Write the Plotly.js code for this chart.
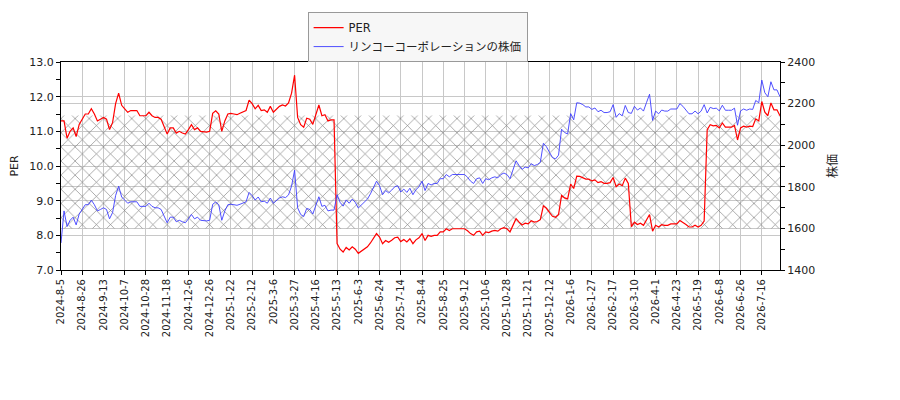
<!DOCTYPE html>
<html>
<head>
<meta charset="utf-8">
<script src="https://cdn.plot.ly/plotly-3.0.1.min.js"></script>
<style>
  body { margin: 0; background: #fff; }
  #plot { width: 900px; height: 400px; }
</style>
</head>
<body>
<div id="plot"></div>
<script>
// tick labels, one every 14 trading days
const tickLabels = [
  '2024-8-5', '2024-8-26', '2024-9-13', '2024-10-7', '2024-10-28', '2024-11-18', '2024-12-6', '2024-12-26',
  '2025-1-22', '2025-2-12', '2025-3-6', '2025-3-27', '2025-4-16', '2025-5-13', '2025-6-3', '2025-6-24',
  '2025-7-14', '2025-8-4', '2025-8-25', '2025-9-12', '2025-10-6', '2025-10-28', '2025-11-21', '2025-12-12',
  '2026-1-6', '2026-1-27', '2026-2-17', '2026-3-10', '2026-4-1', '2026-4-23', '2026-5-19', '2026-6-8',
  '2026-6-26', '2026-7-16'
];

// one value every 2 trading days (7 per tick interval)
const perValues = [
  11.3, 11.3, 10.8, 11.0, 11.1, 10.85, 11.2,
  11.35, 11.5, 11.5, 11.65, 11.5, 11.3, 11.35,
  11.4, 11.35, 11.05, 11.25, 11.8, 12.1, 11.75,
  11.65, 11.55, 11.6, 11.6, 11.6, 11.45, 11.45,
  11.45, 11.55, 11.45, 11.4, 11.4, 11.35, 11.12,
  10.92, 11.1, 11.1, 10.95, 11.0, 10.95, 10.92,
  11.05, 11.19, 11.05, 11.1, 11.0, 10.98, 10.98,
  11.0, 11.52, 11.59, 11.5, 11.0, 11.3, 11.5,
  11.52, 11.5, 11.48, 11.52, 11.57, 11.6, 11.9,
  11.8, 11.65, 11.75, 11.6, 11.62, 11.55, 11.72,
  11.55, 11.65, 11.72, 11.76, 11.73, 11.82, 12.1,
  12.62, 11.4, 11.19, 11.12, 11.38, 11.35, 11.2,
  11.45, 11.76, 11.45, 11.48, 11.3, 11.33, 11.33,
  7.76, 7.6, 7.52, 7.65, 7.58, 7.67, 7.6,
  7.48, 7.55, 7.6, 7.67, 7.78, 7.9, 8.05,
  7.95, 7.76, 7.85, 7.8, 7.86, 7.93, 7.95,
  7.82, 7.88, 7.81, 7.9, 7.76, 7.87, 7.93,
  8.05, 7.85, 8.0, 7.97, 8.0, 8.0, 8.1,
  8.1, 8.19, 8.14, 8.19, 8.19, 8.19, 8.19,
  8.19, 8.13, 8.05, 8.0, 8.1, 8.12, 8.0,
  8.1, 8.08, 8.12, 8.14, 8.12, 8.19, 8.22,
  8.19, 8.1, 8.28, 8.48, 8.38, 8.3, 8.35,
  8.33, 8.42, 8.38, 8.4, 8.45, 8.85, 8.78,
  8.66, 8.55, 8.52, 8.6, 9.15, 9.08, 9.05,
  9.48, 9.35, 9.71, 9.7, 9.67, 9.62, 9.62,
  9.57, 9.6, 9.52, 9.55, 9.5, 9.5, 9.52,
  9.67, 9.4, 9.48, 9.43, 9.65, 9.5, 8.25,
  8.38, 8.31, 8.35, 8.29, 8.45, 8.6, 8.12,
  8.29, 8.24, 8.31, 8.29, 8.29, 8.33, 8.33,
  8.33, 8.43, 8.38, 8.31, 8.24, 8.24, 8.29,
  8.24, 8.29, 8.41, 11.05, 11.19, 11.16, 11.17,
  11.1, 11.24, 11.12, 11.12, 11.12, 11.17, 10.75,
  11.1, 11.15, 11.12, 11.15, 11.14, 11.36, 11.3,
  11.86, 11.55, 11.45, 11.82, 11.62, 11.62, 11.45
];

const priceValues = [
  1530, 1684, 1609, 1639, 1654, 1617, 1669,
  1691, 1714, 1714, 1736, 1714, 1684, 1691,
  1699, 1691, 1646, 1676, 1758, 1803, 1751,
  1736, 1721, 1728, 1728, 1728, 1706, 1706,
  1706, 1721, 1706, 1699, 1699, 1691, 1657,
  1627, 1654, 1654, 1632, 1639, 1632, 1627,
  1646, 1667, 1646, 1654, 1639, 1636, 1636,
  1639, 1716, 1727, 1714, 1639, 1684, 1714,
  1716, 1714, 1711, 1716, 1724, 1728, 1773,
  1758, 1736, 1751, 1728, 1731, 1721, 1746,
  1721, 1736, 1746, 1752, 1748, 1761, 1803,
  1880, 1699, 1667, 1657, 1696, 1691, 1669,
  1706, 1752, 1706, 1711, 1684, 1688, 1688,
  1762, 1725, 1707, 1737, 1721, 1741, 1725,
  1698, 1714, 1725, 1741, 1766, 1793, 1827,
  1805, 1762, 1782, 1771, 1784, 1800, 1805,
  1775, 1789, 1773, 1793, 1762, 1786, 1800,
  1827, 1782, 1816, 1809, 1816, 1816, 1839,
  1839, 1859, 1848, 1859, 1859, 1859, 1859,
  1859, 1846, 1827, 1816, 1839, 1843, 1816,
  1839, 1834, 1843, 1848, 1843, 1859, 1866,
  1859, 1839, 1880, 1925, 1902, 1884, 1895,
  1891, 1911, 1902, 1907, 1918, 2009, 1993,
  1966, 1941, 1934, 1952, 2077, 2061, 2054,
  2152, 2122, 2204, 2202, 2195, 2184, 2184,
  2172, 2179, 2161, 2168, 2157, 2157, 2161,
  2195, 2134, 2152, 2141, 2191, 2157, 2153,
  2187, 2169, 2179, 2164, 2205, 2245, 2119,
  2164, 2151, 2169, 2164, 2164, 2174, 2174,
  2174, 2200, 2187, 2169, 2151, 2151, 2164,
  2151, 2164, 2195, 2155, 2182, 2176, 2178,
  2165, 2192, 2168, 2168, 2168, 2178, 2096,
  2165, 2174, 2168, 2174, 2172, 2215, 2204,
  2313, 2252, 2233, 2305, 2266, 2266, 2233
];

// hatched PER band
const bandLow = 8.2;
const bandHigh = 11.46;

const perName = 'PER';
const priceName = 'リンコーコーポレーションの株価';

const stepDays = 2;
const tickEvery = 14;

var xs = perValues.map((v, i) => i * stepDays);
var xLast = xs[xs.length - 1];

var band = {
    type: 'scatter',
    x: [0, xLast, xLast, 0, 0],
    y: [bandLow, bandLow, bandHigh, bandHigh, bandLow],
    mode: 'lines',
    line: {width: 0},
    fill: 'toself',
    fillcolor: 'rgba(0,0,0,0)',
    fillpattern: {shape: 'x', fgcolor: '#7a7a7a', bgcolor: 'rgba(0,0,0,0)', size: 10, solidity: 0.12},
    hoverinfo: 'skip',
    showlegend: false,
};

var per = {
    type: 'scatter', mode: 'lines', name: perName, legendrank: 1,
    x: xs, y: perValues,
    line: {color: '#ff0000', width: 1.2},
};

var price = {
    type: 'scatter', mode: 'lines', name: priceName, legendrank: 2,
    x: xs, y: priceValues, yaxis: 'y2',
    line: {color: '#3c3cff', width: 0.9},
};

var font = {family: 'DejaVu Sans, Noto Sans CJK JP, sans-serif', size: 11, color: '#222'};

var layout = {
    width: 900, height: 400,
    margin: {l: 61, r: 120, t: 60, b: 130},
    paper_bgcolor: '#fff',
    plot_bgcolor: '#fff',
    font: font,
    showlegend: true,
    legend: {
        x: 0.343, y: 1.24, xanchor: 'left', yanchor: 'top',
        bgcolor: '#f7f7f7', bordercolor: '#999', borderwidth: 1,
        font: {family: font.family, size: 11.5, color: '#222'},
        tracegroupgap: 0, itemwidth: 30,
    },
    xaxis: {
        range: [0, xLast],
        tickvals: tickLabels.map((t, i) => i * tickEvery),
        ticktext: tickLabels,
        tickangle: -90,
        ticks: 'outside', ticklen: 4, tickcolor: '#000',
        showgrid: true, gridcolor: '#c8c8c8', gridwidth: 1,
        showline: true, linecolor: '#000', linewidth: 1, mirror: true,
        zeroline: false,
        tickfont: {family: font.family, size: 10, color: '#222'},
    },
    yaxis: {
        range: [7, 13], dtick: 1, tickformat: '.1f',
        ticks: 'outside', ticklen: 4, tickcolor: '#000',
        minor: {dtick: 0.5, ticks: 'outside', ticklen: 4, tickcolor: '#000', showgrid: false},
        showgrid: true, gridcolor: '#c8c8c8', gridwidth: 1,
        showline: true, linecolor: '#000', linewidth: 1,
        zeroline: false,
        title: {text: 'PER', standoff: 8, font: {family: font.family, size: 11}},
        tickfont: {family: font.family, size: 11, color: '#222'},
    },
    yaxis2: {
        overlaying: 'y', side: 'right',
        range: [1400, 2400], dtick: 200,
        ticks: 'outside', ticklen: 4, tickcolor: '#000',
        minor: {dtick: 100, ticks: 'outside', ticklen: 4, tickcolor: '#000', showgrid: false},
        showgrid: true, gridcolor: '#c8c8c8', gridwidth: 1,
        showline: true, linecolor: '#000', linewidth: 1,
        zeroline: false,
        title: {text: '株価', standoff: 14, font: {family: font.family, size: 12}},
        tickfont: {family: font.family, size: 11, color: '#222'},
    },
};

Plotly.newPlot('plot', [band, price, per], layout, {staticPlot: true, displayModeBar: false});
</script>
</body>
</html>
